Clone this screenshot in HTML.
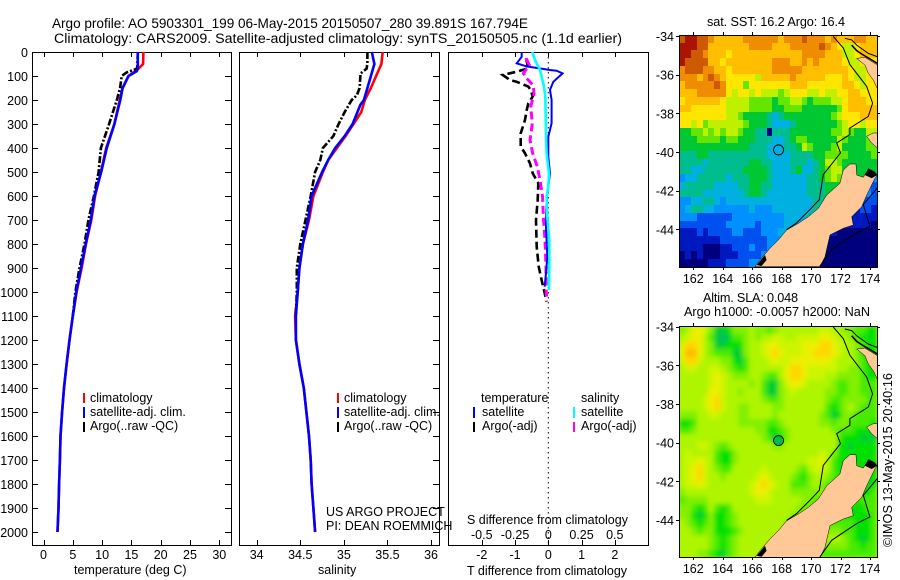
<!DOCTYPE html>
<html>
<head>
<meta charset="utf-8">
<title>Argo profile</title>
<style>
html,body{margin:0;padding:0;background:#fff;}
svg{display:block;}
text{font-family:"Liberation Sans",sans-serif;font-size:12.5px;fill:#000;}
.map-t{font-size:12.7px;}
</style>
</head>
<body>
<svg id="root" width="900" height="580" viewBox="0 0 900 580" xmlns="http://www.w3.org/2000/svg">
<text style="font-size:13.6px" x="52" y="28" textLength="476">Argo profile: AO 5903301_199 06-May-2015 20150507_280 39.891S 167.794E</text>
<text style="font-size:14.2px" x="54" y="43" textLength="568">Climatology: CARS2009. Satellite-adjusted climatology: synTS_20150505.nc (1.1d earlier)</text>

<text x="74" y="574">temperature (deg C)</text>
<text x="318" y="574">salinity</text>
<text x="467" y="575">T difference from climatology</text>
<text x="467" y="524">S difference from climatology</text>

<g>
<line x1="84" x2="84" y1="393" y2="403" stroke="#f00" stroke-width="2"/>
<line x1="84" x2="84" y1="407" y2="418" stroke="#00f" stroke-width="2"/>
<line x1="84" x2="84" y1="422" y2="432" stroke="#000" stroke-width="2"/>
<text x="90" y="402">climatology</text>
<text x="90" y="416">satellite-adj. clim.</text>
<text x="90" y="430">Argo(..raw -QC)</text>
</g>
<g>
<line x1="338" x2="338" y1="393" y2="403" stroke="#f00" stroke-width="2"/>
<line x1="338" x2="338" y1="407" y2="418" stroke="#00f" stroke-width="2"/>
<line x1="338" x2="338" y1="422" y2="432" stroke="#000" stroke-width="2"/>
<text x="344" y="402">climatology</text>
<text x="344" y="416">satellite-adj. clim.</text>
<text x="344" y="430">Argo(..raw -QC)</text>
</g>
<text x="326" y="516">US ARGO PROJECT</text>
<text x="326" y="530">PI: DEAN ROEMMICH</text>

<g>
<text x="481" y="402">temperature</text>
<text x="581" y="402">salinity</text>
<line x1="474" x2="474" y1="407" y2="418" stroke="#00f" stroke-width="2"/>
<line x1="474" x2="474" y1="422" y2="432" stroke="#000" stroke-width="2"/>
<line x1="574" x2="574" y1="407" y2="418" stroke="#0ff" stroke-width="2"/>
<line x1="574" x2="574" y1="422" y2="432" stroke="#f0f" stroke-width="2"/>
<text x="482" y="416">satellite</text>
<text x="482" y="430">Argo(-adj)</text>
<text x="581" y="416">satellite</text>
<text x="581" y="430">Argo(-adj)</text>
</g>

<text class="map-t" x="707" y="26" textLength="138">sat. SST: 16.2 Argo: 16.4</text>
<text class="map-t" x="703" y="302" textLength="95">Altim. SLA: 0.048</text>
<text class="map-t" x="684" y="316" textLength="186">Argo h1000: -0.0057 h2000: NaN</text>
<text class="map-t" transform="translate(892,547) rotate(-90)" textLength="174">©IMOS 13-May-2015 20:40:16</text>
</svg>
<script>
// ---- profile data (depth in m, temperature deg C, salinity PSU) ----
const tempClimDepth = [0,50,70,100,150,200,300,400,500,600,700,800,900,1000,1100,1200,1300,1400,1500,1600,1700,1800,1900,2000];
const tempClim = [17.05,17.0,16.2,14.5,13.5,13.0,12.1,10.7,9.8,8.8,8.15,7.25,6.5,5.65,5.0,4.43,3.95,3.5,3.18,2.9,2.8,2.67,2.56,2.39];
const tempSatDepth = [0,70,80,100,150,200,300,400,500,600,700,800,900,1000,1100,1200,1300,1400,1500,1600,1700,1800,1900,2000];
const tempSat = [16.1,16.1,15.9,14.5,13.5,13.1,12.1,10.8,9.85,8.7,8.07,7.2,6.4,5.6,5.0,4.43,3.95,3.5,3.18,2.9,2.8,2.67,2.56,2.39];
const tempArgoDepth = [0,60,70,85,100,150,200,300,400,500,600,700,800,900,1000,1100];
const tempArgo = [16.1,16.0,15.9,14.2,13.35,13.07,12.5,11.2,9.8,9.4,8.6,7.67,7.0,6.14,5.45,5.0];

const salClimDepth = [0,50,100,150,200,250,300,350,400,450,500,600,700,800,900,1000,1100,1200,1300,1400,1500,1600,1700,1800,1900,2000];
const salClim = [35.445,35.43,35.37,35.31,35.24,35.2,35.11,35.02,34.92,34.82,34.76,34.65,34.6,34.53,34.49,34.47,34.44,34.45,34.49,34.54,34.57,34.6,34.62,34.63,34.65,34.67];
const salSatDepth = [0,50,100,150,200,220,300,350,400,450,500,600,700,800,900,1000,1100,1200,1300,1400,1500,1600,1700,1800,1900,2000];
const salSat = [35.32,35.35,35.31,35.27,35.23,35.19,35.1,35.01,34.9,34.82,34.75,34.63,34.59,34.53,34.49,34.47,34.45,34.45,34.49,34.54,34.57,34.6,34.62,34.63,34.65,34.67];
const salArgoDepth = [0,50,70,90,100,150,180,200,250,300,350,400,450,500,600,700,800,900,1000,1100];
const salArgo = [35.27,35.27,35.26,35.19,35.19,35.18,35.15,35.09,35.01,34.94,34.88,34.76,34.73,34.67,34.62,34.56,34.5,34.46,34.46,34.45];

// ---- difference data (T units; salinity expressed on the T-equivalent scale of the lower axis) ----
const diffTSatDepth = [0,20,47,60,75,78,89,124,158,200,297,353,436,505,561,617,728,853,922,978];
const diffTSat = [-0.8,-0.8,-0.95,-0.65,0.05,0.25,0.43,0.15,0.05,0.1,0.1,0,0,0.05,0,-0.05,-0.07,-0.03,-0.07,-0.11];
const diffSSatDepth = [0,33,75,103,144,186,242,339,422,505,561,603,686,783,894,992];
const diffSSat = [-0.48,-0.4,-0.25,-0.2,-0.13,-0.09,-0.08,-0.07,-0.05,0.02,0,-0.05,-0.03,0.03,0.03,0.02];
const diffTArgoDepth = [26,68,82,96,117,124,144,158,186,214,242,283,339,394,422,464,505,547,617,700,811,894,950,992,1040];
const diffTArgo = [-0.67,-0.6,-0.95,-1.37,-1.15,-0.95,-0.6,-0.53,-0.47,-0.6,-0.65,-0.7,-0.83,-0.83,-0.7,-0.55,-0.47,-0.3,-0.32,-0.37,-0.35,-0.29,-0.2,-0.13,-0.05];
const diffSArgoDepth = [26,54,89,110,139,174,228,297,367,422,478,533,603,686,783,894,978,1019];
const diffSArgo = [-0.67,-0.57,-0.75,-0.65,-0.45,-0.43,-0.53,-0.48,-0.55,-0.47,-0.33,-0.25,-0.17,-0.15,-0.1,-0.07,-0.07,-0.05];

// ---- tick labels ----
const depthTicks = [0,100,200,300,400,500,600,700,800,900,1000,1100,1200,1300,1400,1500,1600,1700,1800,1900,2000];
const tempTicks = [0,5,10,15,20,25,30];
const salTicks = [34,34.5,35,35.5,36];
const diffTTicks = [-2,-1,0,1,2];
const diffSTicks = [-0.5,-0.25,0,0.25,0.5];
const lonTicks = [162,164,166,168,170,172,174];
const latTicks = [-34,-36,-38,-40,-42,-44];

// ---- SST heat levels per cell (north to south, west to east) ----
const sstGrid = [
[12,13,13,12,12,11,10,10,10,10,10,11,11,11,11,11,11,10,11,11,11,12,11,11,11,10,11,10,10,10,11,11,10,10],
[13,13,13,12,12,10,10,10,10,10,10,10,11,11,11,11,10,10,10,11,11,11,11,11,12,11,10,9,8,8,9,10,10,10],
[13,13,12,12,11,10,10,10,9,10,10,10,10,10,10,10,10,10,10,10,10,11,11,11,11,10,10,10,8,8,9,10,10,10],
[13,12,12,12,12,10,10,9,10,10,10,10,10,10,10,10,11,11,11,10,10,11,10,11,10,10,10,10,9,8,8,9,9,9],
[11,12,12,12,11,11,10,10,9,10,10,10,10,10,10,10,11,11,11,11,11,10,10,10,10,10,10,10,10,9,8,8,9,10],
[11,11,11,10,11,12,11,10,9,9,9,9,9,8,10,10,10,10,10,11,10,10,10,10,10,9,9,9,10,9,8,8,9,9],
[10,11,11,11,11,11,12,11,9,9,9,7,9,9,9,9,9,9,9,10,10,10,9,9,9,9,9,9,10,10,9,8,9,9],
[10,10,10,11,11,11,11,11,9,8,9,9,8,9,8,8,8,7,8,9,9,9,8,8,9,8,8,9,9,10,10,9,9,9],
[9,10,10,10,10,10,10,9,8,8,8,8,7,7,7,7,6,7,7,8,8,7,6,7,7,7,8,8,9,10,10,10,9,9],
[10,10,9,9,9,9,9,9,8,8,8,8,7,7,7,7,6,6,7,7,7,6,6,6,6,6,6,7,9,10,10,10,10,10],
[9,9,9,9,9,9,9,9,8,8,7,6,6,6,6,5,4,5,6,6,6,6,6,6,6,6,7,8,9,9,9,10,10,10],
[9,9,8,9,7,8,8,8,8,8,8,7,6,6,6,5,4,4,4,5,6,6,6,6,6,6,6,7,8,9,9,8,9,9],
[6,6,7,7,8,7,8,7,8,8,7,6,6,5,5,0,5,5,5,6,6,6,6,6,6,6,7,7,8,7,6,6,8,8],
[6,6,6,7,7,7,7,6,7,7,6,6,6,5,5,5,4,4,5,6,7,7,6,6,6,6,6,8,7,6,6,6,7,9],
[6,6,6,6,6,6,6,6,6,6,6,6,5,5,5,4,4,4,5,5,6,8,7,6,6,6,7,8,6,6,6,6,7,7],
[5,5,5,6,6,5,5,5,5,5,5,5,5,5,5,4,4,4,4,5,5,5,5,6,6,7,7,7,7,6,6,6,6,7],
[5,5,5,5,4,5,5,5,5,5,5,5,6,6,5,5,4,4,4,5,5,5,4,5,6,8,8,7,6,6,6,6,6,6],
[5,5,4,4,5,5,5,5,5,5,5,6,6,6,6,5,4,4,4,5,6,4,4,5,6,7,8,8,6,6,6,6,6,6],
[3,4,4,5,5,5,5,5,4,5,5,5,6,6,6,5,4,4,4,4,4,4,5,5,6,7,8,7,6,6,6,6,4,3],
[4,5,5,5,5,5,4,4,4,4,5,5,6,6,5,5,4,4,4,4,4,4,5,5,5,6,6,6,6,6,6,3,3,2],
[5,5,5,5,4,4,4,4,4,4,4,5,6,6,5,4,4,4,4,4,4,4,5,5,5,6,6,6,6,6,3,3,3,2],
[3,3,4,4,5,5,4,3,4,4,4,4,4,4,4,4,4,4,4,4,4,4,4,5,5,5,5,5,5,5,2,2,2,2],
[3,4,5,5,4,4,3,3,3,3,3,3,4,3,3,3,4,4,4,4,4,4,4,5,5,5,5,5,5,1,1,2,2,1],
[3,3,3,2,2,2,2,2,2,3,3,3,3,3,3,3,3,3,4,4,4,4,5,5,5,5,5,5,1,1,1,1,1,1],
[2,2,2,2,2,2,2,2,3,3,3,3,3,2,3,3,3,3,4,4,4,5,5,5,5,5,5,1,1,1,1,1,1,0],
[1,1,1,2,1,2,2,2,2,3,3,2,2,2,3,3,3,4,4,4,5,5,5,5,1,1,1,0,0,0,0,0,0,0],
[1,1,1,1,1,1,1,2,2,2,2,2,2,2,2,3,3,3,4,4,5,5,5,0,0,0,0,0,0,0,0,0,0,0],
[1,1,1,1,0,0,0,1,1,2,2,2,3,2,2,3,4,4,4,4,4,0,0,0,0,0,0,0,0,0,0,0,0,0],
[0,1,0,1,0,0,0,1,1,1,2,2,2,2,3,3,4,4,4,0,0,0,0,0,0,0,0,0,0,0,0,0,0,0],
[0,0,0,0,0,1,1,1,2,2,2,2,3,3,3,4,4,4,0,0,0,0,0,0,0,0,0,0,0,0,0,0,0,0]
];

// ---- SLA heat levels per cell ----
const slaGrid = [
[4,5,7,7,6,4,1,1,2,4,4,4,5,4,4,3,4,5,5,5,5,5,5,5,6,6,5,5,4,4,3,3,2,2],
[5,6,7,7,5,3,1,0,1,3,3,4,5,4,5,5,6,6,5,5,6,6,6,6,7,7,6,5,5,4,3,2,2,2],
[6,8,8,7,5,4,1,1,2,2,2,4,5,5,6,7,7,6,6,6,6,7,7,7,8,8,7,6,5,5,4,3,2,2],
[7,9,9,7,5,4,3,3,3,1,1,4,5,5,6,7,8,7,6,6,6,7,7,8,8,8,7,6,5,5,4,2,2,2],
[6,8,8,6,5,5,5,4,4,2,1,3,5,5,5,6,7,6,6,7,7,7,7,7,7,7,6,5,5,5,4,3,2,2],
[5,6,6,5,5,6,6,5,4,3,2,3,5,5,5,5,5,5,7,8,8,7,6,6,6,6,6,5,5,4,4,3,2,2],
[5,5,5,5,5,6,7,6,5,4,4,4,5,5,4,3,3,5,7,8,8,7,6,6,6,5,5,4,4,4,4,3,2,2],
[5,5,5,5,5,6,7,6,5,5,5,5,4,5,3,1,1,4,6,7,7,6,5,5,5,5,4,3,3,4,4,3,3,3],
[5,5,5,5,5,7,7,6,5,5,4,5,5,5,3,1,1,4,5,6,5,5,5,5,5,4,4,3,3,4,4,3,3,3],
[5,5,5,5,6,7,8,6,5,5,5,5,5,5,4,3,3,4,5,5,5,5,5,5,5,4,3,3,4,4,4,4,3,3],
[5,5,5,5,6,7,8,6,5,5,4,4,5,5,5,5,4,4,5,5,5,5,5,5,5,3,2,3,4,5,4,3,3,3],
[4,4,4,5,5,6,6,5,5,5,4,4,5,5,5,5,4,5,5,5,5,5,5,5,4,3,1,2,4,4,3,3,3,3],
[2,2,3,5,5,5,5,5,5,5,4,4,4,4,4,3,3,4,5,5,5,5,5,5,4,4,3,4,4,3,3,3,3,2],
[3,3,4,5,5,5,5,5,5,5,5,5,5,4,4,2,2,3,4,5,5,5,5,5,5,5,4,3,3,3,2,2,2,2],
[5,5,5,5,5,5,5,5,5,5,5,5,5,5,4,3,1,2,4,5,5,5,5,5,5,5,5,3,2,2,2,1,1,1],
[5,5,5,6,6,5,4,3,4,5,5,5,5,5,5,5,4,4,5,5,5,5,5,5,5,5,5,2,2,1,2,2,2,2],
[5,6,5,5,5,5,3,2,2,4,5,5,5,5,5,5,5,5,5,5,5,5,5,5,6,5,4,2,2,2,2,2,2,2],
[5,6,6,7,6,5,3,2,2,4,5,5,5,5,5,5,5,5,5,5,5,5,6,6,7,5,3,2,2,2,2,2,2,2],
[5,6,7,8,6,5,4,3,3,5,5,5,5,5,6,5,5,5,5,5,4,3,5,6,6,5,3,2,2,2,2,2,2,2],
[5,6,7,8,6,5,5,4,5,5,5,5,5,6,7,6,5,5,5,4,3,2,4,5,5,4,3,2,2,2,2,2,2,2],
[5,6,6,7,6,5,5,5,5,5,5,5,6,7,8,7,6,5,5,3,3,3,4,5,4,3,3,3,3,3,2,2,2,2],
[4,5,5,5,5,5,5,5,5,5,5,5,6,7,7,6,5,5,5,4,4,4,4,4,4,3,3,3,3,3,2,2,2,3],
[3,4,4,4,4,5,5,5,5,5,5,5,5,6,6,6,5,5,5,5,5,4,4,3,3,3,3,3,3,3,2,3,3,3],
[4,4,3,2,3,5,3,2,3,5,5,5,5,5,5,5,5,5,5,5,4,4,3,3,3,3,3,3,3,2,2,2,3,3],
[4,4,2,1,2,4,2,2,3,4,5,5,5,5,5,5,5,5,5,4,4,3,3,3,3,3,3,3,2,2,2,2,2,3],
[5,4,3,2,3,4,2,2,3,4,5,5,5,5,5,5,5,5,4,4,3,3,3,3,3,3,3,3,3,3,2,2,2,3],
[5,5,4,3,4,4,2,2,2,3,4,5,5,5,5,5,5,5,4,4,3,3,3,3,3,4,4,4,3,3,2,2,2,3],
[5,5,5,5,5,4,3,2,3,4,5,5,5,5,5,5,5,4,4,3,3,3,3,3,4,5,5,5,4,3,2,1,2,3],
[5,5,5,5,5,4,3,2,3,4,5,5,5,5,5,5,5,4,3,3,3,3,3,3,4,4,4,4,4,3,3,2,3,3],
[5,5,5,4,4,3,2,1,3,4,5,5,5,5,5,5,4,4,3,3,3,3,3,3,3,3,3,3,3,3,3,3,3,3]
];

// ---- geography (lon/lat) ----
const southIslandLon = [166.19,166.53,167.21,167.78,168.34,169.14,169.81,170.49,171.06,171.96,172.19,172.64,173.05,173.1,173.55,173.78,174.5,174.34,173.78,173.44,172.76,172.87,172.19,171.29,170.95,170.61];
const southIslandLat = [-45.93,-45.59,-44.98,-44.55,-44.04,-43.69,-43.35,-42.92,-42.23,-41.62,-40.93,-40.62,-40.62,-41.19,-41.31,-41.02,-41.19,-41.36,-42.23,-42.83,-43.35,-43.78,-43.95,-44.29,-45.42,-45.93];
const northTipLon = [173.1,173.66,174.5,174.5,174.23,173.89,173.66];
const northTipLat = [-35.16,-35.1,-35.5,-36.71,-36.28,-35.93,-35.5];
const taranakiLon = [173.77,174.23,174.5,174.5,174.11];
const taranakiLat = [-39.19,-39.02,-39.02,-39.79,-39.53];
const soundsLon = [173.66,173.89,174.34,174.5,174.12];
const soundsLat = [-41.19,-40.85,-41.02,-41.19,-41.36];
const fiordLon = [166.3,166.87,166.98,166.64];
const fiordLat = [-45.85,-45.33,-45.59,-45.9];
const isobathWestLon = [171.51,172.19,172.64,173.77,174.18,173.89,172.64,172.64,171.74,172.0,170.83,170.56,169.92,169.02,168.34];
const isobathWestLat = [-34.02,-34.62,-35.48,-36.6,-37.47,-38.16,-38.76,-39.1,-39.53,-40.05,-41.17,-42.47,-42.98,-43.67,-44.02];
const isobathEastLon = [174.5,173.55,174.0,173.09,171.4,170.6];
const isobathEastLat = [-41.86,-42.72,-43.84,-44.19,-45.05,-45.91];
const isobathNorthLon = [172.3,172.76,173.1,173.89,174.5];
const isobathNorthLat = [-34.12,-34.2,-34.47,-34.9,-35.07];
const northCoastLon = [172.76,173.1,173.44,174.5];
const northCoastLat = [-34.47,-34.76,-34.93,-35.41];
const argoLon = 167.794;
const argoLat = -39.891;

const NS = 'http://www.w3.org/2000/svg';
const root = document.getElementById('root');
function mk(tag, parent, attrs) {
  const e = document.createElementNS(NS, tag);
  for (const k in attrs) e.setAttribute(k, attrs[k]);
  parent.appendChild(e);
  return e;
}
function label(parent, x, y, str, anchor, cls) {
  const t = mk('text', parent, {x: x, y: y, 'text-anchor': anchor});
  if (cls) t.setAttribute('class', cls);
  t.textContent = str;
  
  
  return t;
}

// ---- profile panels ----
const panelTop = 52, panelBottom = 545;
const depthY = d => 52 + d * 0.24;
const tempX = v => 43.5 + v * 5.86;
const salX = v => 256.7 + (v - 34) * 87.17;
const diffX = v => 548.3 + v * 33.25;
const diffSX = v => 548.3 + v * 133;

function frame(name, x0, x1) {
  const r = mk('rect', root, {x: x0 + 0.5, y: panelTop + 0.5, width: x1 - x0, height: panelBottom - panelTop, fill: 'none', stroke: '#000', 'stroke-width': 1, 'shape-rendering': 'crispEdges'});
  
  
}
function tick(x1, y1, x2, y2) {
  const l = mk('line', root, {x1: x1, y1: y1, x2: x2, y2: y2, stroke: '#000', 'stroke-width': 1, 'shape-rendering': 'crispEdges'});
  
  
}
function series(name, xs, ds, xf, color, width, dash) {
  const pts = xs.map((v, i) => xf(v).toFixed(1) + ',' + depthY(ds[i]).toFixed(1)).join(' ');
  const p = mk('polyline', root, {points: pts, fill: 'none', stroke: color, 'stroke-width': width});
  if (dash) p.setAttribute('stroke-dasharray', dash);
  
  
}

frame('temperature-plot-frame', 32, 231);
frame('salinity-plot-frame', 239, 439);
frame('difference-plot-frame', 448, 648);

depthTicks.forEach(d => {
  const y = Math.round(depthY(d)) + 0.5;
  tick(32, y, 38, y);
  tick(225, y, 231, y);
  tick(433, y, 439, y);
  label(root, 28, Math.round(depthY(d)) + 5, String(d), 'end');
});
tempTicks.forEach(v => {
  const x = Math.round(tempX(v)) + 0.5;
  tick(x, 52, x, 57);
  tick(x, 540, x, 545);
  label(root, tempX(v), 559, String(v), 'middle');
});
salTicks.forEach(v => {
  const x = Math.round(salX(v)) + 0.5;
  tick(x, 52, x, 57);
  tick(x, 540, x, 545);
  label(root, salX(v), 559, String(v), 'middle');
});
diffTTicks.forEach(v => {
  const x = Math.round(diffX(v)) + 0.5;
  tick(x, 52, x, 57);
  tick(x, 540, x, 545);
  label(root, diffX(v), 559, String(v), 'middle');
});
diffSTicks.forEach(v => {
  label(root, diffSX(v), 539, String(v), 'middle');
});

series('temperature-climatology-line', tempClim, tempClimDepth, tempX, '#f00', 2.6);
series('temperature-argo-line', tempArgo, tempArgoDepth, tempX, '#000', 2.6, '7 2 2 2');
series('temperature-satellite-line', tempSat, tempSatDepth, tempX, '#00f', 2.6);
series('salinity-climatology-line', salClim, salClimDepth, salX, '#f00', 2.6);
series('salinity-argo-line', salArgo, salArgoDepth, salX, '#000', 2.6, '7 2 2 2');
series('salinity-satellite-line', salSat, salSatDepth, salX, '#00f', 2.6);

const zeroLine = mk('line', root, {x1: diffX(0), x2: diffX(0), y1: panelTop, y2: panelBottom, stroke: '#000', 'stroke-width': 1, 'stroke-dasharray': '1.5 3.5'});


series('t-difference-argo-line', diffTArgo, diffTArgoDepth, diffX, '#000', 2.6, '8 4');
series('s-difference-argo-line', diffSArgo, diffSArgoDepth, diffX, '#f0f', 3, '8 4');
series('t-difference-satellite-line', diffTSat, diffTSatDepth, diffX, '#00f', 2);
series('s-difference-satellite-line', diffSSat, diffSSatDepth, diffX, '#0ff', 2.6);

// ---- maps ----
const sstPalette = ['#00007f','#0018c0','#0050f0','#0090ff','#00b0e0','#00bd90','#00c832','#64e600','#bef000','#ffe600','#ffbe00','#f08c00','#cd5a00','#aa1400'];
const slaPalette = ['#00b96e','#00cd32','#00e100','#46eb00','#82f000','#aff500','#cdf500','#ebf000','#ffd700','#ffb900'];
const mapLeft = 679, mapRight = 877, lonStart = 161.05, lonStep = 0.3956, latStep = 0.4;
const lonX = v => 693.3 + (v - 162) * 14.72;

function drawMap(name, top, bottom, lat34Y, grid, palette, circleFill, blur) {
  const latY = v => lat34Y + (-34 - v) * 19.33;
  const latStart = -34 - (top - lat34Y) / 19.33;
  const g = mk('g', root, {'shape-rendering': 'crispEdges'});
  
  
  const clipId = name + '-clip';
  const cp = mk('clipPath', g, {id: clipId});
  mk('rect', cp, {x: mapLeft, y: top, width: mapRight - mapLeft, height: bottom - top});
  const inner = mk('g', g, {'clip-path': 'url(#' + clipId + ')'});
  const backing = mk('rect', inner, {x: mapLeft, y: top, width: mapRight - mapLeft, height: bottom - top, fill: palette[5]});
  
  
  const cells = mk('g', inner, {});
  
  
  if (blur) {
    const filterId = name + '-smooth';
    const f = mk('filter', g, {id: filterId, filterUnits: 'userSpaceOnUse', x: mapLeft - 20, y: top - 20, width: mapRight - mapLeft + 40, height: bottom - top + 40});
    mk('feGaussianBlur', f, {stdDeviation: blur});
    cells.setAttribute('filter', 'url(#' + filterId + ')');
  }
  grid.forEach((row, r) => {
    row.forEach((v, c) => {
      const x0 = Math.round(lonX(lonStart + c * lonStep));
      const x1 = Math.round(lonX(lonStart + (c + 1) * lonStep));
      const y0 = Math.round(latY(latStart - r * latStep));
      const y1 = Math.round(latY(latStart - (r + 1) * latStep));
      const cell = mk('rect', cells, {x: x0, y: y0, width: x1 - x0, height: y1 - y0, fill: palette[v]});
      
      
    });
  });
  function geoPts(lons, lats) {
    return lons.map((v, i) => lonX(v).toFixed(1) + ',' + latY(lats[i]).toFixed(1)).join(' ');
  }
  [[southIslandLon, southIslandLat, 'south-island'], [northTipLon, northTipLat, 'northland'], [taranakiLon, taranakiLat, 'taranaki']].forEach(a => {
    const land = mk('polygon', inner, {points: geoPts(a[0], a[1]), fill: '#ffc896', stroke: '#000', 'stroke-width': 0.5, 'shape-rendering': 'auto'});
    
    
  });
  [[soundsLon, soundsLat, 'marlborough-sounds'], [fiordLon, fiordLat, 'fiordland-coast']].forEach(a => {
    const blob = mk('polygon', inner, {points: geoPts(a[0], a[1]), fill: '#000', 'shape-rendering': 'auto'});
    
    
  });
  [[isobathWestLon, isobathWestLat, 'isobath-west', 1], [isobathEastLon, isobathEastLat, 'isobath-east', 1], [isobathNorthLon, isobathNorthLat, 'isobath-north', 1], [northCoastLon, northCoastLat, 'northland-coast', 1.6]].forEach(a => {
    const iso = mk('polyline', inner, {points: geoPts(a[0], a[1]), fill: 'none', stroke: '#000', 'stroke-width': a[3], 'shape-rendering': 'auto'});
    
    
  });
  const border = mk('rect', g, {x: mapLeft + 0.5, y: top + 0.5, width: mapRight - mapLeft, height: bottom - top, fill: 'none', stroke: '#000', 'stroke-width': 1});
  
  
  const circ = mk('circle', g, {cx: lonX(argoLon), cy: latY(argoLat), r: 5, fill: circleFill, stroke: '#000', 'stroke-width': 0.9, 'shape-rendering': 'auto'});
  
  
  lonTicks.forEach(v => {
    const x = Math.round(lonX(v)) + 0.5;
    tick(x, top - 3, x, top);
    tick(x, bottom, x, bottom + 3);
    label(root, lonX(v), bottom + 16, String(v), 'middle');
  });
  latTicks.forEach(v => {
    const y = Math.round(latY(v)) + 0.5;
    tick(mapLeft - 3, y, mapLeft, y);
    tick(mapRight, y, mapRight + 3, y);
    label(root, 674, latY(v) + 5, String(v), 'end');
  });
}
drawMap('sst-map', 35, 267, 36, sstGrid, sstPalette, 'none', 0);
drawMap('sla-map', 326, 557, 326.7, slaGrid, slaPalette, '#00bd50', 2.5);
</script>
</body>
</html>
